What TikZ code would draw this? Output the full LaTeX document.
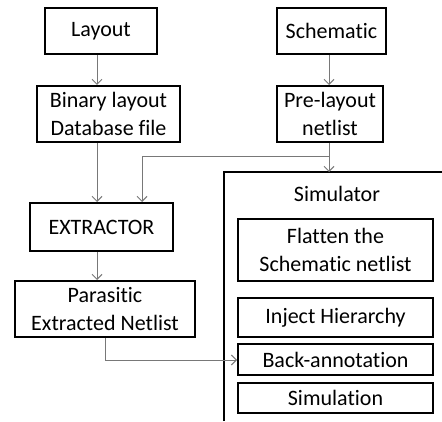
\documentclass[tikz,border=0pt]{standalone}
\usepackage{fontspec}
\setmainfont{Carlito}[Ligatures=NoCommon]
\usetikzlibrary{arrows.meta}
\begin{document}
\begin{tikzpicture}[x=1pt,y=1pt,
  box/.style={draw=black,line width=2pt,shape=rectangle,inner sep=0pt,align=center,
    font=\fontsize{22}{28}\selectfont},
  conn/.style={draw={rgb,255:red,120;green,120;blue,120},line width=1pt},
  arr/.style={conn,-{Straight Barb[length=5pt,width=10pt]}}]
\fill[white] (0,0) rectangle (442,421);
\useasboundingbox (0,0) rectangle (442,421);
% left column
\node[box,minimum width=112pt,minimum height=46pt] (layout) at (101,390) {Layout};
\node[box,minimum width=143pt,minimum height=56pt] (binary) at (108.5,307) {Binary layout\\Database file};
\node[box,minimum width=143pt,minimum height=48pt] (extractor) at (101.5,194) {EXTRACTOR};
\node[box,minimum width=180pt,minimum height=56pt] (parasitic) at (105,112) {Parasitic\\Extracted Netlist};
% right column
\node[box,minimum width=109pt,minimum height=46pt] (schematic) at (331.5,390) {Schematic};
\node[box,minimum width=106pt,minimum height=56pt] (prelayout) at (330,307) {Pre-layout\\netlist};
% simulator frame, running off the right and bottom edges
\coordinate (simtop) at (329,249);
\draw[line width=2pt] (224,0) -- (224,249) -- (442,249);
\node[font=\fontsize{22}{28}\selectfont,inner sep=0pt] (simlabel) at (337,227) {Simulator};
\node[box,minimum width=195pt,minimum height=62pt] (flatten) at (335.5,171) {Flatten the\\Schematic netlist};
\node[box,minimum width=195pt,minimum height=39pt] (inject) at (335.5,103.5) {Inject Hierarchy};
\node[box,minimum width=195pt,minimum height=31pt] (back) at (335.5,61.5) {Back-annotation};
\node[box,minimum width=195pt,minimum height=30pt] (simulation) at (335.5,23) {Simulation};
% connector columns
\coordinate (ca) at (97,0);
\coordinate (cb) at (142,0);
\coordinate (cc) at (329,0);
\coordinate (cd) at (105,0);
\coordinate (split) at (329,264);
\coordinate (bend) at (142,264);
\coordinate (corner) at (105,61);
% connectors
\draw[arr] (layout.south -| ca) -- (binary.north -| ca);
\draw[arr] (schematic.south -| cc) -- (prelayout.north -| cc);
\draw[arr] (binary.south -| ca) -- (extractor.north -| ca);
\draw[arr] (prelayout.south -| cc) -- (simtop);
\draw[arr] (split) -- (bend) -- (extractor.north -| cb);
\draw[arr] (extractor.south -| ca) -- (parasitic.north -| ca);
\draw[arr] (parasitic.south -| cd) -- (corner) -- (back.west |- corner);
\end{tikzpicture}
\end{document}
